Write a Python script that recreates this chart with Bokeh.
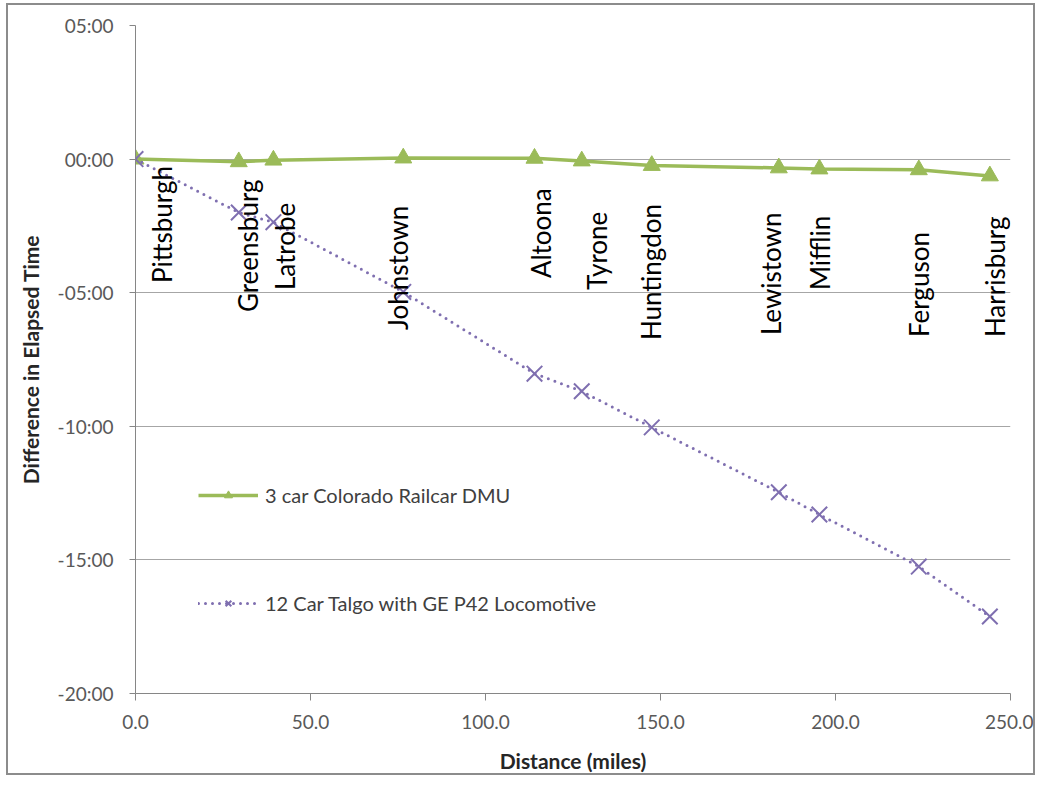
import math

from bokeh.core.properties import value
from bokeh.embed import file_html
from bokeh.models import (ColumnDataSource, CustomJSTickFormatter, FixedTicker, Legend,
                          LegendItem, PrintfTickFormatter, Range1d)
from bokeh.plotting import figure
from bokeh.resources import INLINE

# Stations along the Pittsburgh - Harrisburg line
stations = ["Pittsburgh", "Greensburg", "Latrobe", "Johnstown", "Altoona", "Tyrone",
            "Huntingdon", "Lewistown", "Mifflin", "Ferguson", "Harrisburg"]
distance_mi = [0.0, 29.5, 39.4, 76.5, 114.0, 127.5, 147.5, 183.8, 195.4, 223.8, 244.1]

# Difference in elapsed time, minutes
dmu_diff = [0.0, -0.10, -0.04, 0.04, 0.03, -0.07, -0.24, -0.33, -0.37, -0.40, -0.63]
talgo_diff = [0.0, -2.0, -2.36, -4.97, -8.03, -8.69, -10.04, -12.47, -13.30, -15.25, -17.12]

x_ticks = [0, 50, 100, 150, 200, 250]
y_ticks = [-20, -15, -10, -5, 0, 5]

dmu_name = "3 car Colorado Railcar DMU"
talgo_name = "12 Car Talgo with GE P42 Locomotive"

# Station name placement: horizontal shift and drop below the zero line (px)
label_dx = [26, 9, 12, -5, 6, 15, -1, -8, 1, 0, 5]
label_dy = [124, 153, 131, 171, 119, 131, 181, 176, 131, 178, 178]

FONT = "Lato"
DMU_COLOR = "#9BBB59"
TALGO_COLOR = "#7F6FB0"
AXIS_GRAY = "#868686"

src = ColumnDataSource(dict(
    dist=distance_mi, dmu=dmu_diff, talgo=talgo_diff, station=stations,
    dx=label_dx, dy=label_dy, zero=[0.0] * len(stations),
))

p = figure(width=1029, height=772, output_backend="svg", toolbar_location=None,
           x_range=Range1d(0, 250), y_range=Range1d(-20, 5),
           min_border_left=127, min_border_right=27,
           min_border_top=20, min_border_bottom=84)
p.outline_line_color = None
p.background_fill_color = "white"
p.border_fill_color = "white"
# thin grey frame around the whole chart
p.styles = {"border": "2px solid #8c8c8c", "margin-left": "6px", "margin-top": "3px"}

# axes
p.xaxis.ticker = FixedTicker(ticks=x_ticks)
p.xaxis.formatter = PrintfTickFormatter(format="%.1f")
p.yaxis.ticker = FixedTicker(ticks=y_ticks)
p.yaxis.formatter = CustomJSTickFormatter(code="""
    const neg = tick < 0;
    const a = Math.abs(tick);
    let m = Math.floor(a + 1e-9);
    let s = Math.round((a - m) * 60);
    if (s === 60) { m += 1; s = 0; }
    const pad = (n) => (n < 10 ? "0" : "") + n;
    return (neg ? "-" : "") + pad(m) + ":" + pad(s);
""")
p.xaxis.axis_label = "Distance (miles)"
p.yaxis.axis_label = "Difference in Elapsed Time"
for ax in (p.xaxis, p.yaxis):
    ax.axis_line_color = AXIS_GRAY
    ax.axis_line_width = 1
    ax.major_tick_line_color = AXIS_GRAY
    ax.major_tick_in = 0
    ax.minor_tick_line_color = None
    ax.major_label_text_font = FONT
    ax.major_label_text_font_size = "19px"
    ax.major_label_text_color = "#595959"
    ax.axis_label_text_font = FONT
    ax.axis_label_text_font_size = "21px"
    ax.axis_label_text_font_style = "bold"
    ax.axis_label_text_color = "#262626"
p.xaxis.major_tick_out = 7
p.xaxis.major_label_standoff = 14
p.xaxis.axis_label_standoff = 16
p.yaxis.major_tick_out = 6
p.yaxis.major_label_standoff = 16
p.yaxis.axis_label_standoff = 12

p.xgrid.visible = False
p.ygrid.ticker = FixedTicker(ticks=y_ticks)
p.ygrid.grid_line_color = "#a6a6a6"
p.ygrid.grid_line_width = 1

# series
dmu_line = p.line("dist", "dmu", source=src, line_color=DMU_COLOR, line_width=3.5)
dmu_pts = p.scatter("dist", "dmu", source=src, marker="triangle", size=17,
                    fill_color=DMU_COLOR, line_color=DMU_COLOR)
talgo_line = p.line("dist", "talgo", source=src, line_color=TALGO_COLOR, line_width=3,
                    line_dash="0 7", line_cap="round")
talgo_pts = p.scatter("dist", "talgo", source=src, marker="x", size=22,
                      line_color=TALGO_COLOR, line_width=2)

# station names, vertical
p.text(x="dist", y="zero", text="station", source=src, x_offset="dx", y_offset="dy",
       angle=math.pi / 2, text_align="left", text_baseline="middle",
       text_font=value(FONT), text_font_size="26px", text_color="black")

legend = Legend(items=[LegendItem(label=dmu_name, renderers=[dmu_line, dmu_pts]),
                       LegendItem(label=talgo_name, renderers=[talgo_line, talgo_pts])],
                location=(63, 78), padding=0, spacing=84, margin=0,
                glyph_width=60, glyph_height=20, label_height=20, label_standoff=7,
                background_fill_alpha=0, border_line_color=None,
                label_text_font=FONT, label_text_font_size="20px",
                label_text_color="#404040")
p.add_layout(legend)

open("out.html", "w").write(file_html(p, INLINE, title="Elapsed time difference"))
